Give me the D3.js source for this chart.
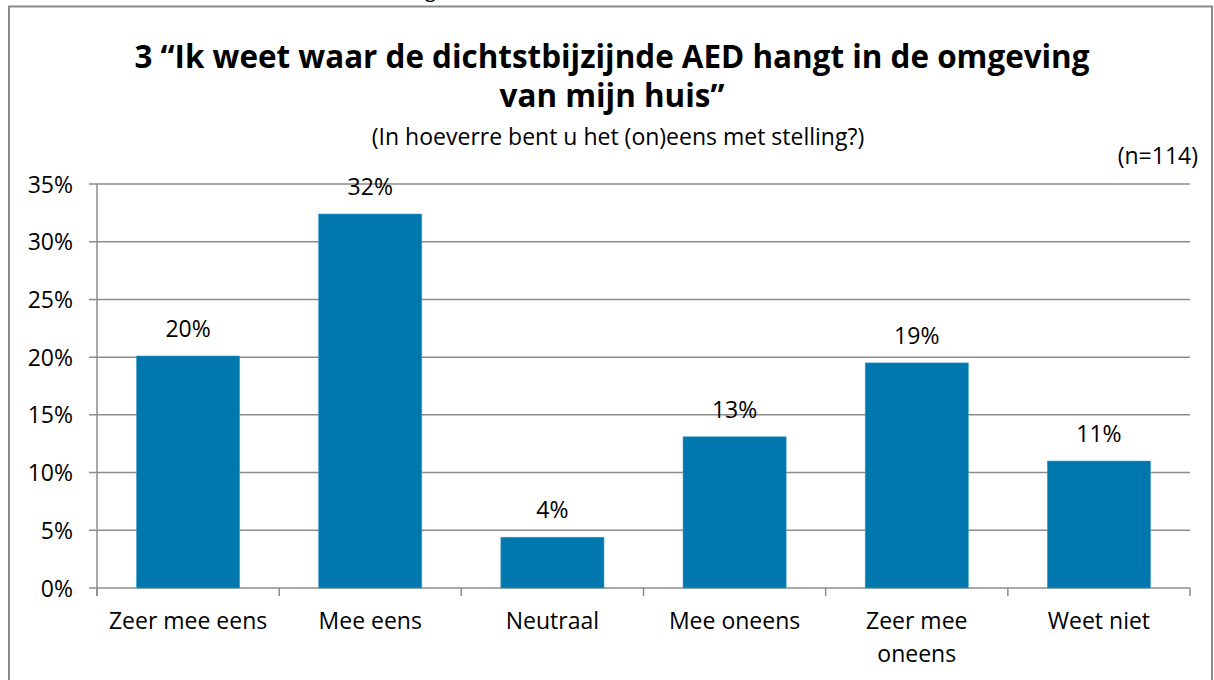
<!DOCTYPE html>
<html>
<head>
<meta charset="utf-8">
<script src="https://cdn.jsdelivr.net/npm/d3@7"></script>
<style>
  body { margin:0; background:#fff; }
  text { font-family: "Open Sans", "Noto Sans", sans-serif; fill:#000; }
</style>
</head>
<body>
<div id="chart-area"></div>
<script>
const categories = [["Zeer mee eens"], ["Mee eens"], ["Neutraal"], ["Mee oneens"], ["Zeer mee", "oneens"], ["Weet niet"]];
const values = [20.1, 32.4, 4.4, 13.1, 19.5, 11.0];
const valueLabels = ["20%", "32%", "4%", "13%", "19%", "11%"];
const yTicks = [0, 5, 10, 15, 20, 25, 30, 35];

const W = 1214, H = 680;
const margin = {top:184, right:24, bottom:92, left:97};
const width = W - margin.left - margin.right;
const height = H - margin.top - margin.bottom;

var svg = d3.select("#chart-area").append("svg")
    .attr("width", W)
    .attr("height", H);

// frame
svg.append("rect")
    .attr("x", 9).attr("y", 6.5)
    .attr("width", 1203).attr("height", 700)
    .attr("fill", "none")
    .attr("stroke", "#8a8a8a")
    .attr("stroke-width", 2);

// clipped fragment of text above the frame
svg.append("text")
    .attr("x", 425).attr("y", -3)
    .style("font-size", "20px")
    .text("g");

svg.append("text")
    .attr("x", 612).attr("y", 68)
    .attr("text-anchor", "middle")
    .style("font-size", "31.4px").style("font-weight", "bold")
    .text("3 \u201cIk weet waar de dichtstbijzijnde AED hangt in de omgeving");

svg.append("text")
    .attr("x", 612).attr("y", 107)
    .attr("text-anchor", "middle")
    .style("font-size", "31.4px").style("font-weight", "bold")
    .text("van mijn huis\u201d");

svg.append("text")
    .attr("x", 618).attr("y", 145)
    .attr("text-anchor", "middle")
    .style("font-size", "23px")
    .text("(In hoeverre bent u het (on)eens met stelling?)");

svg.append("text")
    .attr("x", 1198).attr("y", 164)
    .attr("text-anchor", "end")
    .style("font-size", "23px")
    .text("(n=114)");

var g = svg.append("g")
    .attr("transform", "translate(" + margin.left + "," + margin.top + ")");

const x = d3.scaleBand()
    .domain(d3.range(categories.length))
    .range([0, width])
    .padding(0);

const y = d3.scaleLinear()
    .domain([0, 35])
    .range([height, 0]);

const barW = x.bandwidth() * 0.566;

// gridlines
g.append("g").selectAll("line")
    .data(yTicks)
    .enter().append("line")
    .attr("x1", -8).attr("x2", width)
    .attr("y1", d => y(d)).attr("y2", d => y(d))
    .attr("stroke", "#8c8c8c")
    .attr("stroke-width", 1.5);

// y axis labels
var yAxis = g.append("g")
    .call(d3.axisLeft(y).tickValues(yTicks).tickFormat(d => d + "%").tickSize(0).tickPadding(24));
yAxis.select(".domain").remove();
yAxis.selectAll("text").style("font-size", "23px").attr("dy", "0.35em");

// bars
g.selectAll("rect.bar")
    .data(values)
    .enter().append("rect")
    .attr("class", "bar")
    .attr("x", (d, i) => x(i) + (x.bandwidth() - barW) / 2)
    .attr("width", barW)
    .attr("y", d => y(d))
    .attr("height", d => height - y(d))
    .attr("fill", "#0077ad")
    .attr("stroke", "#3f9ccb")
    .attr("stroke-width", 0.6);

// value labels
g.selectAll("text.val")
    .data(values)
    .enter().append("text")
    .attr("class", "val")
    .attr("x", (d, i) => x(i) + x.bandwidth() / 2)
    .attr("y", d => y(d) - 19)
    .attr("text-anchor", "middle")
    .style("font-size", "23px")
    .text((d, i) => valueLabels[i]);

// y axis line
g.append("line")
    .attr("x1", 0).attr("x2", 0)
    .attr("y1", 0).attr("y2", height + 8)
    .attr("stroke", "#8c8c8c").attr("stroke-width", 1.5);

// x axis ticks
g.append("g").selectAll("line")
    .data(d3.range(categories.length + 1))
    .enter().append("line")
    .attr("x1", d => d * x.step()).attr("x2", d => d * x.step())
    .attr("y1", height).attr("y2", height + 8)
    .attr("stroke", "#8c8c8c").attr("stroke-width", 1.5);

// category labels
var cat = g.selectAll("text.cat")
    .data(categories)
    .enter().append("text")
    .attr("class", "cat")
    .attr("x", (d, i) => x(i) + x.bandwidth() / 2)
    .attr("y", height + 41)
    .attr("text-anchor", "middle")
    .style("font-size", "23px");
cat.selectAll("tspan")
    .data(d => d)
    .enter().append("tspan")
    .attr("x", function() { return d3.select(this.parentNode).attr("x"); })
    .attr("dy", (d, i) => i === 0 ? 0 : 33)
    .text(d => d);
</script>
</body>
</html>
